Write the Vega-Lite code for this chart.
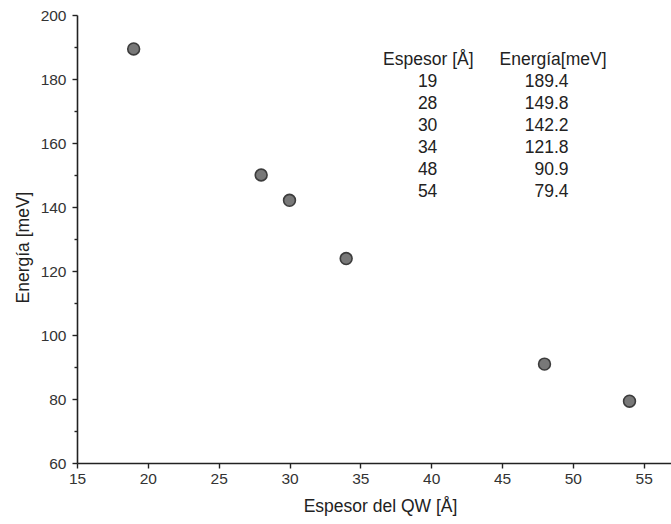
{
  "$schema": "https://vega.github.io/schema/vega-lite/v6.json",
  "width": 595,
  "height": 448,
  "autosize": {"type": "none"},
  "padding": {"left": 77, "top": 15, "right": 0, "bottom": 61},
  "background": "white",
  "config": {
    "view": {"stroke": null},
    "font": "Liberation Sans",
    "axis": {
      "labelFont": "Liberation Sans",
      "titleFont": "Liberation Sans",
      "labelColor": "#333333",
      "titleColor": "#222222",
      "domainColor": "#222222",
      "tickColor": "#222222",
      "domainWidth": 1.6,
      "tickWidth": 1.4,
      "grid": false,
      "titleFontWeight": "normal",
      "labelFontSize": 15.5,
      "titleFontSize": 17.5
    }
  },
  "datasets": {
    "puntos": [
      {"espesor": 19, "energia": 189.4},
      {"espesor": 28, "energia": 150.0},
      {"espesor": 30, "energia": 142.1},
      {"espesor": 34, "energia": 123.9},
      {"espesor": 48, "energia": 90.9},
      {"espesor": 54, "energia": 79.3}
    ],
    "tabla": [
      {"fila": 1, "espesor": 19, "energia": 189.4},
      {"fila": 2, "espesor": 28, "energia": 149.8},
      {"fila": 3, "espesor": 30, "energia": 142.2},
      {"fila": 4, "espesor": 34, "energia": 121.8},
      {"fila": 5, "espesor": 48, "energia": 90.9},
      {"fila": 6, "espesor": 54, "energia": 79.4}
    ],
    "cabecera": [
      {"fila": 0, "col1": "Espesor [Å]", "col2": "Energía[meV]"}
    ]
  },
  "layer": [
    {
      "data": {"name": "puntos"},
      "mark": {"type": "point", "filled": true, "fill": "#787878", "stroke": "#3c3c3c", "strokeWidth": 1.6, "opacity": 1, "size": 140},
      "encoding": {
        "x": {
          "field": "espesor", "type": "quantitative",
          "scale": {"domain": [15, 57], "nice": false, "zero": false},
          "axis": {
            "title": "Espesor del QW [Å]",
            "values": [15, 17.5, 20, 22.5, 25, 27.5, 30, 32.5, 35, 37.5, 40, 42.5, 45, 47.5, 50, 52.5, 55],
            "labelExpr": "datum.value % 5 === 0 ? datum.label : ''",
            "tickSize": {"condition": {"test": "datum.value % 5 !== 0", "value": 3}, "value": 5},
            "labelPadding": 3,
            "titlePadding": 11,
            "titleX": 303,
            "labelFlush": false
          }
        },
        "y": {
          "field": "energia", "type": "quantitative",
          "scale": {"domain": [60, 200], "nice": false, "zero": false},
          "axis": {
            "title": "Energía [meV]",
            "values": [60, 70, 80, 90, 100, 110, 120, 130, 140, 150, 160, 170, 180, 190, 200],
            "labelExpr": "datum.value % 20 === 0 ? datum.label : ''",
            "tickSize": {"condition": {"test": "datum.value % 20 !== 0", "value": 3}, "value": 5},
            "labelPadding": 6,
            "titlePadding": 8,
            "titleY": 232,
            "labelFlush": false
          }
        }
      }
    },
    {
      "data": {"name": "cabecera"},
      "mark": {"type": "text", "font": "Liberation Sans", "fontSize": 17.5, "color": "#222222", "align": "center", "baseline": "middle"},
      "encoding": {
        "x": {"datum": 39.8, "type": "quantitative"},
        "y": {"field": "fila", "type": "quantitative", "scale": {"domain": [-2.06, 18.33], "reverse": true, "nice": false, "zero": false}, "axis": null},
        "text": {"field": "col1"}
      }
    },
    {
      "data": {"name": "cabecera"},
      "mark": {"type": "text", "font": "Liberation Sans", "fontSize": 17.5, "color": "#222222", "align": "center", "baseline": "middle"},
      "encoding": {
        "x": {"datum": 48.6, "type": "quantitative"},
        "y": {"field": "fila", "type": "quantitative", "scale": {"domain": [-2.06, 18.33], "reverse": true, "nice": false, "zero": false}, "axis": null},
        "text": {"field": "col2"}
      }
    },
    {
      "data": {"name": "tabla"},
      "mark": {"type": "text", "font": "Liberation Sans", "fontSize": 17.5, "color": "#222222", "align": "center", "baseline": "middle"},
      "encoding": {
        "x": {"datum": 39.75, "type": "quantitative"},
        "y": {"field": "fila", "type": "quantitative", "scale": {"domain": [-2.06, 18.33], "reverse": true, "nice": false, "zero": false}, "axis": null},
        "text": {"field": "espesor", "type": "quantitative", "format": "d"}
      }
    },
    {
      "data": {"name": "tabla"},
      "mark": {"type": "text", "font": "Liberation Sans", "fontSize": 17.5, "color": "#222222", "align": "right", "baseline": "middle"},
      "encoding": {
        "x": {"datum": 49.7, "type": "quantitative"},
        "y": {"field": "fila", "type": "quantitative", "scale": {"domain": [-2.06, 18.33], "reverse": true, "nice": false, "zero": false}, "axis": null},
        "text": {"field": "energia", "type": "quantitative", "format": ".1f"}
      }
    }
  ],
  "resolve": {"scale": {"y": "independent"}}
}
